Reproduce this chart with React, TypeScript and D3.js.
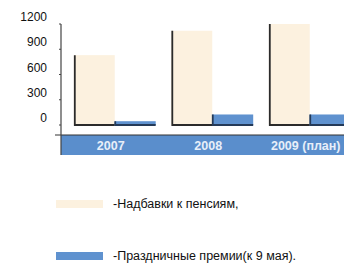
import React, { useEffect, useRef } from 'react';
import * as d3 from 'd3';

const years = ['2007', '2008', '2009 (план)'];
const pensionValues = [830, 1120, 1200];
const bonusValues = [45, 125, 125];
const yTicks = [0, 300, 600, 900, 1200];
const legendLabels = ['-Надбавки к пенсиям,', '-Праздничные премии(к 9 мая).'];

const PALE = '#fcf1df';
const BLUE = '#5f92cf';
const BAND = '#5a8ecc';
const FONT = '"Liberation Sans", Arial, sans-serif';

export default function App() {
  const svgRef = useRef<SVGSVGElement>(null);

  useEffect(() => {
    if (!svgRef.current) return;
    const svg = d3.select(svgRef.current);
    svg.selectAll('*').remove();

    const axisX = 61;
    const baseY = 125;
    const bandTop = 135;
    const bandBottom = 155;

    const y = d3.scaleLinear().domain([0, 1200]).range([baseY, 24]);
    const x = d3.scaleBand<string>()
      .domain(years)
      .range([66, 358.5])
      .paddingInner(0.16)
      .paddingOuter(0.08);
    const inner = d3.scaleBand<string>()
      .domain(['p', 'b'])
      .range([0, x.bandwidth()]);

    // x band
    svg.append('rect')
      .attr('x', axisX).attr('y', bandTop)
      .attr('width', 344 - axisX).attr('height', bandBottom - bandTop)
      .attr('fill', BAND);
    svg.append('line')
      .attr('x1', 55).attr('x2', 344).attr('y1', bandTop).attr('y2', bandTop)
      .attr('stroke', '#333').attr('stroke-width', 1.2);

    // y axis
    svg.append('line')
      .attr('x1', axisX).attr('x2', axisX).attr('y1', 24).attr('y2', bandBottom)
      .attr('stroke', '#444').attr('stroke-width', 1.2);
    yTicks.forEach(t => {
      svg.append('line')
        .attr('x1', axisX - 2).attr('x2', axisX).attr('y1', y(t)).attr('y2', y(t))
        .attr('stroke', '#444');
      svg.append('text')
        .attr('x', 47).attr('y', y(t) - 7)
        .attr('text-anchor', 'end').attr('dominant-baseline', 'central')
        .attr('font-family', FONT).attr('font-size', 12).attr('fill', '#111')
        .text(t);
    });

    years.forEach((yr, i) => {
      const gx = x(yr)!;
      const px = gx + inner('p')!;
      const bx = gx + inner('b')!;
      const w = inner.bandwidth();
      svg.append('rect')
        .attr('x', px).attr('y', y(pensionValues[i]))
        .attr('width', w).attr('height', baseY - y(pensionValues[i]))
        .attr('fill', PALE);
      svg.append('rect')
        .attr('x', bx).attr('y', y(bonusValues[i]))
        .attr('width', w).attr('height', baseY - y(bonusValues[i]))
        .attr('fill', BLUE);
      // dark edges
      svg.append('path')
        .attr('d', `M${px + 1},${y(pensionValues[i])}V${baseY}H${px + w}`)
        .attr('fill', 'none').attr('stroke', '#2b2b2b').attr('stroke-width', 1.8);
      svg.append('path')
        .attr('d', `M${bx + 0.5},${y(bonusValues[i])}V${baseY}H${Math.min(bx + w, 344)}`)
        .attr('fill', 'none').attr('stroke', '#243a58').attr('stroke-width', 1.8);
      svg.append('text')
        .attr('x', gx + x.bandwidth() / 2 - 4).attr('y', (bandTop + bandBottom) / 2 + 1)
        .attr('text-anchor', 'middle').attr('dominant-baseline', 'central')
        .attr('font-family', FONT).attr('font-size', 12.5).attr('font-weight', 'bold')
        .attr('fill', '#e8eff9')
        .text(yr);
    });

    // legend
    const colors = [PALE, BLUE];
    const ly = [204, 256];
    legendLabels.forEach((lbl, i) => {
      svg.append('rect')
        .attr('x', 56).attr('y', ly[i] - 4)
        .attr('width', 47).attr('height', 8)
        .attr('fill', colors[i]);
      svg.append('text')
        .attr('x', 113).attr('y', ly[i])
        .attr('dominant-baseline', 'central')
        .attr('font-family', FONT).attr('font-size', 12.5).attr('fill', '#111')
        .text(lbl);
    });
  }, []);

  return (
    <svg
      ref={svgRef}
      width={344}
      height={265}
      style={{ position: 'absolute', left: 0, top: 0, background: '#fff' }}
    />
  );
}
